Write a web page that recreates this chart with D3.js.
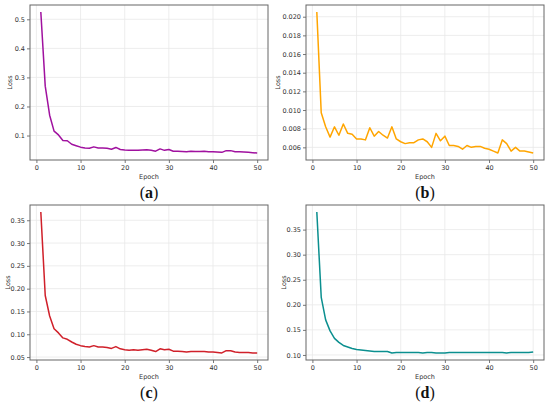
<!DOCTYPE html>
<html>
<head>
<meta charset="utf-8">
<script src="https://cdn.jsdelivr.net/npm/d3@7"></script>
<style>
body { margin: 0; background: #fff; }
.tick text { font-family: "DejaVu Sans", sans-serif; font-size: 6.5px; fill: #333; }
.lbl { font-family: "DejaVu Sans", sans-serif; font-size: 6.5px; fill: #333; }
.cap { font-family: "Liberation Serif", serif; font-size: 16px; fill: #111; }
</style>
</head>
<body>
<svg id="chart" width="550" height="406"></svg>
<script>
var epochs = [1,2,3,4,5,6,7,8,9,10,11,12,13,14,15,16,17,18,19,20,21,22,23,24,25,
              26,27,28,29,30,31,32,33,34,35,36,37,38,39,40,41,42,43,44,45,46,47,48,49,50];
var xTicks = [0,10,20,30,40,50];

var lossA = [0.525,0.27,0.17,0.115,0.102,0.083,0.082,0.070,0.065,0.060,
             0.057,0.056,0.061,0.057,0.057,0.056,0.053,0.059,0.052,0.050,
             0.049,0.049,0.049,0.050,0.051,0.049,0.046,0.054,0.049,0.052,
             0.046,0.046,0.045,0.044,0.046,0.045,0.045,0.046,0.044,0.044,
             0.043,0.042,0.048,0.048,0.044,0.044,0.043,0.042,0.041,0.040];
var ticksA = [0.1,0.2,0.3,0.4,0.5];

var lossB = [0.0205,0.0097,0.0082,0.0071,0.0082,0.0073,0.0085,0.0075,0.0074,0.0069,
             0.0069,0.0068,0.0081,0.0072,0.0077,0.0073,0.0070,0.0082,0.0069,0.0066,
             0.0064,0.0065,0.0065,0.0068,0.0069,0.0066,0.0060,0.0075,0.0067,0.0072,
             0.0062,0.0062,0.0061,0.0058,0.0062,0.0060,0.0061,0.0061,0.0059,0.0058,
             0.0056,0.0054,0.0068,0.0064,0.0056,0.0060,0.0056,0.0056,0.0055,0.0054];
var ticksB = [0.006,0.008,0.010,0.012,0.014,0.016,0.018,0.020];

var lossC = [0.368,0.185,0.140,0.112,0.103,0.092,0.089,0.083,0.078,0.075,
             0.073,0.072,0.075,0.072,0.072,0.071,0.069,0.073,0.068,0.066,
             0.065,0.066,0.065,0.066,0.067,0.065,0.062,0.068,0.066,0.067,
             0.063,0.063,0.062,0.061,0.062,0.062,0.062,0.062,0.061,0.061,
             0.060,0.059,0.064,0.064,0.061,0.060,0.060,0.060,0.059,0.059];
var ticksC = [0.05,0.10,0.15,0.20,0.25,0.30,0.35];

var lossD = [0.385,0.215,0.170,0.148,0.133,0.125,0.119,0.116,0.113,0.111,
             0.110,0.109,0.108,0.107,0.107,0.107,0.107,0.104,0.105,0.105,
             0.105,0.105,0.105,0.105,0.104,0.105,0.105,0.104,0.104,0.104,
             0.105,0.105,0.105,0.105,0.105,0.105,0.105,0.105,0.105,0.105,
             0.105,0.105,0.105,0.104,0.105,0.105,0.105,0.105,0.105,0.106];
var ticksD = [0.10,0.15,0.20,0.25,0.30,0.35];

var svg = d3.select("#chart");

function panel(left, top, values, yTicks, fmt, color, letter, lossX)
{
  var w = 238, h = 155;
  var g = svg.append("g").attr("transform", "translate(" + left + "," + top + ")");

  // matplotlib style 5% margins
  var xs = d3.extent(epochs), ys = d3.extent(values);
  var mx = (xs[1] - xs[0]) * 0.05, my = (ys[1] - ys[0]) * 0.05;
  var x = d3.scaleLinear().domain([xs[0] - mx, xs[1] + mx]).range([0, w]);
  var y = d3.scaleLinear().domain([ys[0] - my, ys[1] + my]).range([h, 0]);

  // grid
  g.append("g").selectAll("line").data(xTicks).enter().append("line")
    .attr("x1", function(d){ return x(d); }).attr("x2", function(d){ return x(d); })
    .attr("y1", 0).attr("y2", h)
    .attr("stroke", "#e8e8e8").attr("stroke-width", 0.8);
  g.append("g").selectAll("line").data(yTicks).enter().append("line")
    .attr("x1", 0).attr("x2", w)
    .attr("y1", function(d){ return y(d); }).attr("y2", function(d){ return y(d); })
    .attr("stroke", "#e8e8e8").attr("stroke-width", 0.8);

  var xa = g.append("g").attr("transform", "translate(0," + h + ")")
    .call(d3.axisBottom(x).tickValues(xTicks).tickSize(3).tickPadding(2));
  var ya = g.append("g")
    .call(d3.axisLeft(y).tickValues(yTicks).tickFormat(d3.format(fmt)).tickSize(3).tickPadding(2));
  [xa, ya].forEach(function(a){
    a.select(".domain").remove();
    a.selectAll(".tick line").attr("stroke", "#555").attr("stroke-width", 0.8);
  });

  var line = d3.line()
    .x(function(d, i){ return x(epochs[i]); })
    .y(function(d){ return y(d); });
  g.append("path").datum(values)
    .attr("d", line)
    .attr("fill", "none")
    .attr("stroke", color)
    .attr("stroke-width", 1.5)
    .attr("stroke-linejoin", "round");

  g.append("rect").attr("width", w).attr("height", h)
    .attr("fill", "none").attr("stroke", "#666").attr("stroke-width", 1);

  g.append("text").attr("class", "lbl")
    .attr("x", w / 2).attr("y", h + 19).attr("text-anchor", "middle").text("Epoch");
  g.append("text").attr("class", "lbl")
    .attr("transform", "translate(" + lossX + "," + (h / 2) + ") rotate(-90)")
    .attr("text-anchor", "middle").text("Loss");

  var cap = g.append("text").attr("class", "cap")
    .attr("x", w / 2).attr("y", h + 38).attr("text-anchor", "middle");
  cap.append("tspan").text("(");
  cap.append("tspan").attr("font-weight", "bold").text(letter);
  cap.append("tspan").text(")");
}

panel(30, 5, lossA, ticksA, ".1f", "#a0119f", "a", -18);
panel(306, 5, lossB, ticksB, ".3f", "#ffa500", "b", -26);
panel(30, 205, lossC, ticksC, ".2f", "#d0202a", "c", -20);
panel(306, 205, lossD, ticksD, ".2f", "#0b8f8f", "d", -20);
</script>
</body>
</html>
